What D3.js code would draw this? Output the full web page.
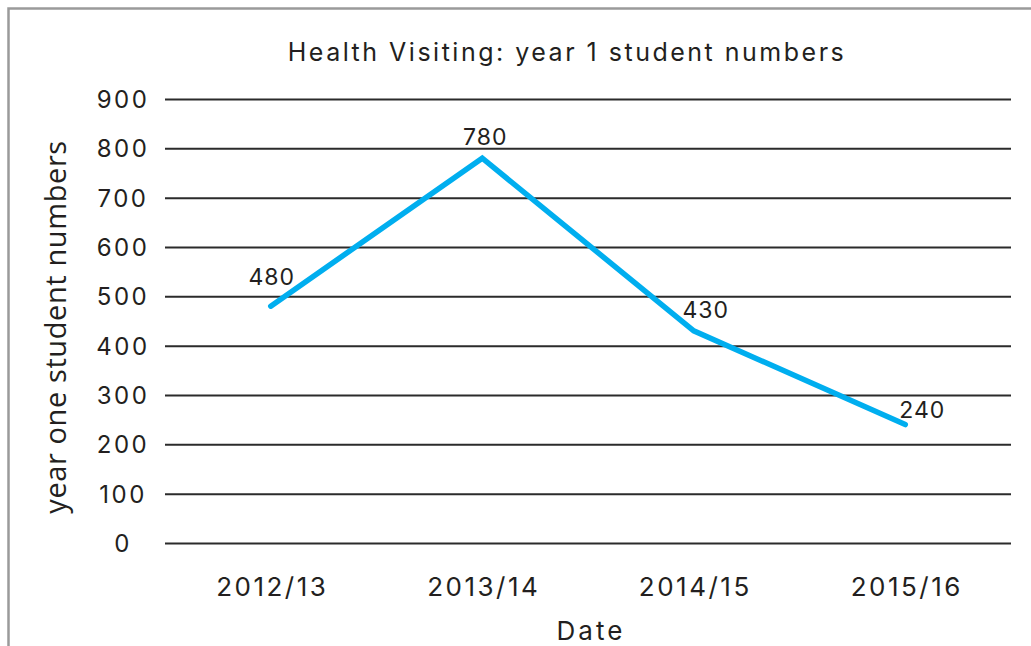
<!DOCTYPE html>
<html>
<head>
<meta charset="utf-8">
<script src="https://cdn.jsdelivr.net/npm/d3@7"></script>
<style>
    html, body { margin: 0; padding: 0; background: #fff; }
    svg { display: block; }
    .grid line { stroke: #2b2b2b; stroke-width: 2px; }
    .grid text { fill: #231f20; font-family: Inter, sans-serif; font-size: 24px; letter-spacing: 2.5px; }
    .xlab text { fill: #231f20; font-family: Inter, sans-serif; font-size: 26px; letter-spacing: 2.5px; }
</style>
</head>
<body>
<div id="chart"></div>
<script>
    const categories = ['2012/13', '2013/14', '2014/15', '2015/16'];
    const studentNumbers = [480, 780, 430, 240];
    const yTicks = [0, 100, 200, 300, 400, 500, 600, 700, 800, 900];

    const COLORS = {
        line: '#00aeef',
        text: '#231f20',
        frame: '#9a9a9a'
    };

    const W = 1031, H = 646;
    const plot = { left: 165, right: 1011, top: 99, bottom: 543 };

    const svg = d3.select('#chart').append('svg')
        .attr('width', W)
        .attr('height', H);

    // outer frame (only top and left edges show in the picture)
    svg.append('rect')
        .attr('x', 8.5).attr('y', 8.5)
        .attr('width', W + 20).attr('height', H + 20)
        .attr('fill', 'none')
        .attr('stroke', COLORS.frame)
        .attr('stroke-width', 2.5);

    const x = d3.scalePoint()
        .domain(categories)
        .range([plot.left, plot.right])
        .padding(0.5);

    const y = d3.scaleLinear()
        .domain([0, 900])
        .range([plot.bottom, plot.top]);

    // horizontal gridlines + y tick labels
    const grid = svg.append('g')
        .attr('class', 'grid')
        .attr('transform', `translate(${plot.left},0)`)
        .call(d3.axisLeft(y)
            .tickValues(yTicks)
            .tickSize(-(plot.right - plot.left))
            .tickPadding(0)
            .tickFormat(d3.format('d')));
    grid.select('.domain').remove();
    grid.selectAll('.tick text')
        .attr('x', -42)
        .attr('text-anchor', 'middle')
        .attr('dy', '0.36em');

    // category labels
    const xAxis = svg.append('g')
        .attr('class', 'xlab')
        .attr('transform', `translate(0,${plot.bottom})`)
        .call(d3.axisBottom(x).tickSize(0).tickPadding(0));
    xAxis.select('.domain').remove();
    xAxis.selectAll('.tick text')
        .attr('x', 1)
        .attr('y', 53)
        .attr('dy', 0);

    // the line
    const line = d3.line()
        .x((d, i) => x(categories[i]))
        .y(d => y(d));

    svg.append('path')
        .datum(studentNumbers)
        .attr('d', line)
        .attr('fill', 'none')
        .attr('stroke', COLORS.line)
        .attr('stroke-width', 5.5)
        .attr('stroke-linejoin', 'miter')
        .attr('stroke-linecap', 'round');

    // value labels, nudged like the original
    const nudge = [[1, -21], [3, -13], [12, -13], [17, -7]];
    svg.append('g')
        .selectAll('text')
        .data(studentNumbers)
        .join('text')
        .attr('x', (d, i) => x(categories[i]) + nudge[i][0])
        .attr('y', (d, i) => y(d) + nudge[i][1])
        .attr('text-anchor', 'middle')
        .attr('fill', COLORS.text)
        .style('font-family', 'Inter, sans-serif')
        .style('font-size', '23px')
        .style('letter-spacing', '1px')
        .text(d => d);

    // title
    svg.append('text')
        .attr('x', 567)
        .attr('y', 61)
        .attr('text-anchor', 'middle')
        .attr('fill', COLORS.text)
        .style('font-family', 'Inter, sans-serif')
        .style('font-size', '25px')
        .style('letter-spacing', '2.5px')
        .text('Health Visiting: year 1 student numbers');

    // axis titles
    svg.append('text')
        .attr('x', 591)
        .attr('y', 640)
        .attr('text-anchor', 'middle')
        .attr('fill', COLORS.text)
        .style('font-family', 'Inter, sans-serif')
        .style('font-size', '26px')
        .style('letter-spacing', '3px')
        .text('Date');

    svg.append('text')
        .attr('transform', 'translate(66,327) rotate(-90)')
        .attr('text-anchor', 'middle')
        .attr('fill', COLORS.text)
        .style('font-family', '"Open Sans", sans-serif')
        .style('font-size', '29px')
        .style('letter-spacing', '0.6px')
        .text('year one student numbers');
</script>
</body>
</html>
